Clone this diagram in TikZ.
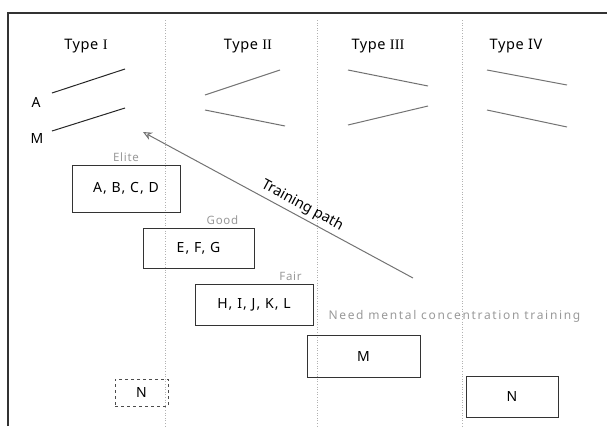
\documentclass[tikz,border=0pt]{standalone}
\usepackage{fontspec}
\setmainfont{Noto Sans}
\newfontfamily\numfont{Liberation Serif}
\usetikzlibrary{arrows.meta,positioning}
\begin{document}
\begin{tikzpicture}[x=1pt,y=-1pt,
  typelbl/.style={font=\fontsize{14.5}{16}\selectfont\addfontfeature{LetterSpace=4}},
  catbox/.style={draw=black!80,line width=0.9pt,font=\fontsize{14}{16}\selectfont\addfontfeature{LetterSpace=8},inner sep=0pt},
  catlbl/.style={text=black!40,font=\fontsize{11.5}{13}\selectfont\addfontfeature{LetterSpace=6}},
  trend/.style={line width=1pt,draw=black!55},
  divider/.style={draw=black!30,dotted,line width=0.6pt},
  plain/.style={font=\fontsize{14}{16}\selectfont}]
\useasboundingbox (0,0) rectangle (607,426);
% frame
\draw[line width=1.2pt,black!80] (8,426) -- (8,13) -- (607,13);
% dividers
\draw[divider] (165,20) -- (165,426);
\draw[divider] (317,20) -- (317,426);
\draw[divider] (462,20) -- (462,426);
% type headers
\node[typelbl] (t1) at (86,46) {Type {\numfont I}};
\node[typelbl] (t2) at (248,46) {Type {\numfont II}};
\node[typelbl] (t3) at (378,46) {Type {\numfont III}};
\node[typelbl] (t4) at (516,46) {Type IV};
% Type I
\node[plain] (la) at (36,102) {A};
\node[plain] (lm) at (37,138) {M};
\draw[trend,draw=black!85] (52,93) -- (125,69);
\draw[trend,draw=black!85] (52,131) -- (125,108);
% Type II
\draw[trend] (205,95) -- (280,70);
\draw[trend] (205,110) -- (285,126);
% Type III
\draw[trend] (348,70) -- (428,86);
\draw[trend] (348,125) -- (428,106);
% Type IV
\draw[trend] (487,70) -- (567,85);
\draw[trend] (487,110) -- (567,127);
% training path
\coordinate (ps) at (413,278);
\coordinate (pe) at (143,132);
\draw[line width=1pt,black!55,-{Stealth[open,length=9pt,width=8pt]}] (ps) -- (pe)
  node[pos=0.43,sloped,above=0pt,text=black,font=\fontsize{14.5}{16}\selectfont] (tp) {Training path};
% category boxes
\node[catbox,minimum width=108pt,minimum height=47pt] (elite) at (126,188.5) {A, B, C, D};
\node[catlbl,above=-1pt of elite] (el) {Elite};
\node[catbox,minimum width=111pt,minimum height=40pt] (good) at (198.5,248) {E, F, G};
\node[catlbl,above=-1pt of good.north east,xshift=-32pt] (gl) {Good};
\node[catbox,minimum width=118pt,minimum height=41pt] (fair) at (254,304.5) {H, I, J, K, L};
\node[catlbl,above=-1pt of fair.north east,xshift=-23pt] (fl) {Fair};
\node[anchor=west,text=black!40,font=\fontsize{12}{14}\selectfont\addfontfeature{LetterSpace=14}] (need) at (325,316) {Need mental concentration training};
\node[catbox,minimum width=113pt,minimum height=42pt] (m) at (363.5,356) {M};
\node[catbox,dashed,draw=black!70,minimum width=53pt,minimum height=27pt] (n1) at (141.5,392.5) {N};
\node[catbox,minimum width=92pt,minimum height=41pt] (n2) at (512,396.5) {N};
\end{tikzpicture}
\end{document}
